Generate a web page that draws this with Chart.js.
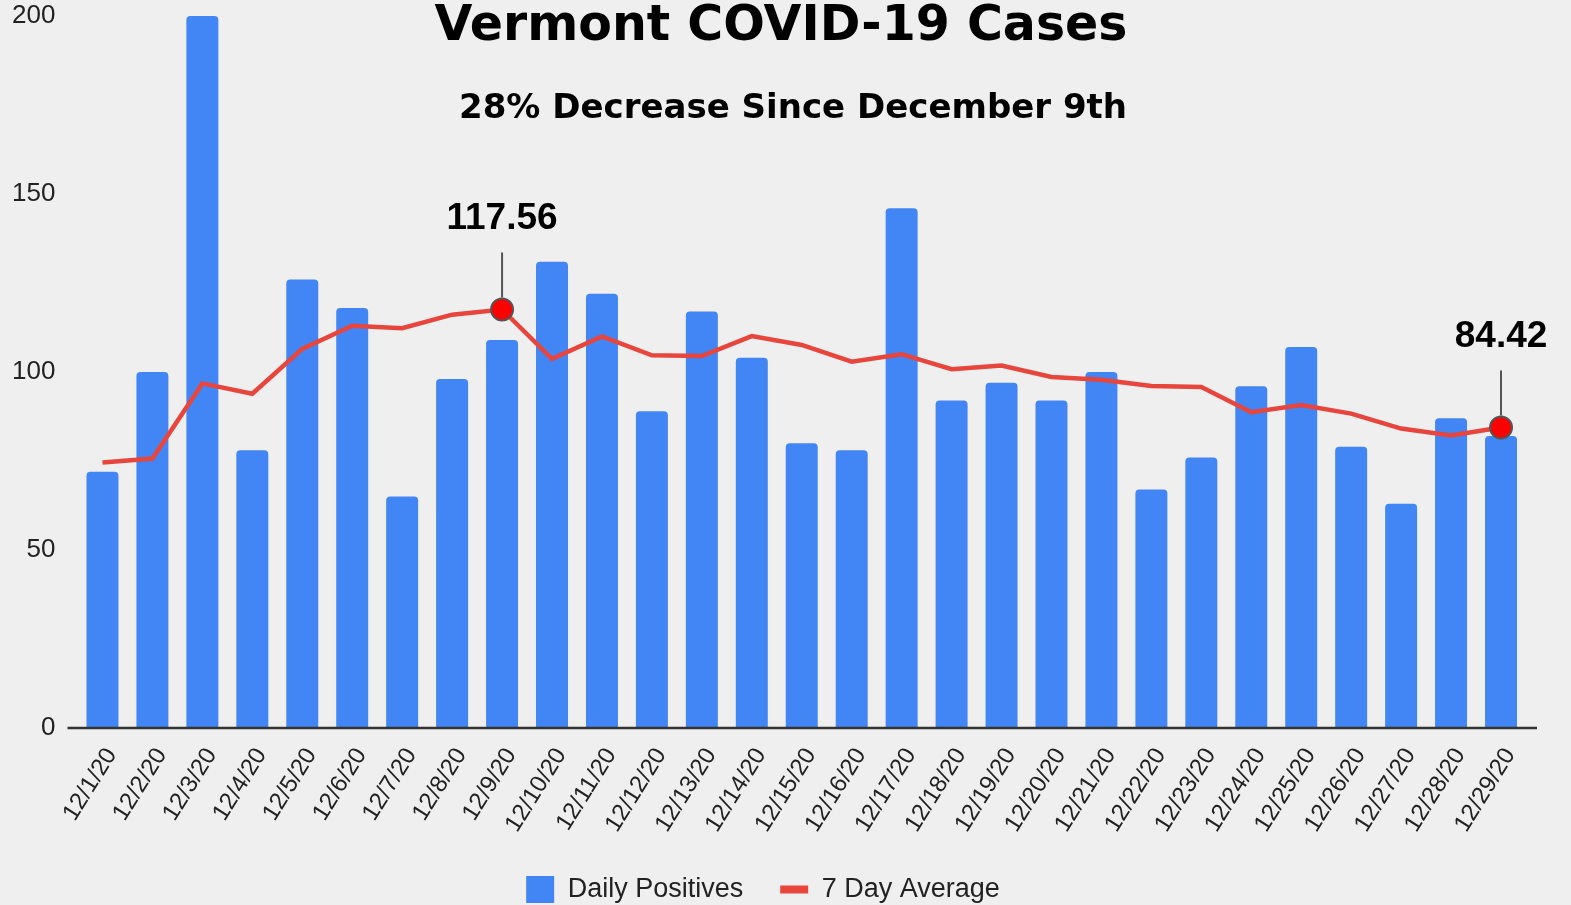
<!DOCTYPE html>
<html>
<head>
<meta charset="utf-8">
<title>Vermont COVID-19 Cases</title>
<script src="https://cdn.jsdelivr.net/npm/chart.js@4.4.1/dist/chart.umd.min.js"></script>
<style>
  html, body { margin: 0; padding: 0; background: #efefef; }
  #wrap { width: 1571px; height: 905px; position: relative; }
</style>
</head>
<body>
<div id="wrap"><canvas id="chart"></canvas></div>
<script>
// ---------- data ----------
const DATES = ['12/1/20','12/2/20','12/3/20','12/4/20','12/5/20','12/6/20','12/7/20','12/8/20','12/9/20','12/10/20',
  '12/11/20','12/12/20','12/13/20','12/14/20','12/15/20','12/16/20','12/17/20','12/18/20','12/19/20','12/20/20',
  '12/21/20','12/22/20','12/23/20','12/24/20','12/25/20','12/26/20','12/27/20','12/28/20','12/29/20'];
const DAILY = [72, 100, 200, 78, 126, 118, 65, 98, 109, 131,
  122, 89, 117, 104, 80, 78, 146, 92, 97, 92,
  100, 67, 76, 96, 107, 79, 63, 87, 82];
const AVG = [74.6, 75.7, 96.8, 93.9, 106.5, 113.0, 112.3, 116.1, 117.56, 103.7,
  110.0, 104.7, 104.5, 110.1, 107.6, 102.9, 105.0, 100.8, 101.8, 98.6,
  97.8, 96.1, 95.8, 88.7, 90.7, 88.3, 84.1, 82.2, 84.42];
const Y_TICKS = [0, 50, 100, 150, 200];
const CALLOUTS = [8, 28]; // average points that get a value label

const TITLE = 'Vermont COVID-19 Cases';
const SUBTITLE = '28% Decrease Since December 9th';

const BLUE = '#4285F4', RED = '#E8453C', DOT = '#FF0000';
const TEXT = '#222';
const SANS = '"Liberation Sans", Arial, sans-serif';

function $(id){ return document.getElementById(id); }

Chart.defaults.font.family = SANS;

// baseline, callouts and titles drawn on top of the plot
const decorations = {
  id: 'decorations',
  afterDatasetsDraw(chart){
    const { ctx, chartArea } = chart;
    const y0 = chart.scales.y.getPixelForValue(0);
    ctx.save();
    ctx.strokeStyle = '#333';
    ctx.lineWidth = 2.5;
    ctx.beginPath();
    ctx.moveTo(chartArea.left - 10, y0);
    ctx.lineTo(chartArea.right + 11, y0);
    ctx.stroke();

    const pts = chart.getDatasetMeta(1).data;
    ctx.strokeStyle = '#555';
    ctx.lineWidth = 2;
    ctx.fillStyle = '#000';
    ctx.font = 'bold 37px ' + SANS;
    ctx.textAlign = 'center';
    ctx.textBaseline = 'alphabetic';
    CALLOUTS.forEach(i => {
      const p = pts[i];
      ctx.beginPath();
      ctx.moveTo(p.x, p.y - 57);
      ctx.lineTo(p.x, p.y - 12);
      ctx.stroke();
      ctx.fillText(AVG[i].toFixed(2), p.x, p.y - 80);
    });
    ctx.restore();
  },
  afterDraw(chart){
    const { ctx } = chart;
    ctx.save();
    ctx.fillStyle = '#000';
    ctx.textAlign = 'center';
    ctx.textBaseline = 'alphabetic';
    ctx.font = 'bold 49px "DejaVu Sans", sans-serif';
    ctx.fillText(TITLE, 781, 40);
    ctx.font = 'bold 34px "DejaVu Sans", sans-serif';
    ctx.fillText(SUBTITLE, 793, 118);
    ctx.restore();
  }
};

new Chart($('chart'), {
  data: {
    labels: DATES,
    datasets: [
      {
        type: 'bar', label: 'Daily Positives', data: DAILY,
        backgroundColor: BLUE, barPercentage: 0.64, categoryPercentage: 1,
        borderRadius: 4, order: 1
      },
      {
        type: 'line', label: '7 Day Average', data: AVG,
        borderColor: RED, backgroundColor: RED, borderWidth: 4.5, tension: 0, order: 0,
        pointRadius: c => CALLOUTS.includes(c.dataIndex) ? 11 : 0,
        pointHoverRadius: c => CALLOUTS.includes(c.dataIndex) ? 11 : 0,
        pointBackgroundColor: DOT, pointBorderColor: '#555', pointBorderWidth: 2
      }
    ]
  },
  options: {
    responsive: true, maintainAspectRatio: false, animation: false,
    layout: { padding: { top: 16, right: 45, bottom: -8, left: 0 } },
    plugins: {
      tooltip: { enabled: false },
      legend: {
        position: 'bottom',
        labels: {
          color: TEXT, font: { size: 27 },
          usePointStyle: true, pointStyleWidth: 28, boxHeight: 28, padding: 37,
          sort: (a, b) => a.datasetIndex - b.datasetIndex,
          generateLabels(chart){
            const items = Chart.defaults.plugins.legend.labels.generateLabels(chart);
            items.forEach(it => {
              if (it.datasetIndex === 1) { it.pointStyle = 'line'; it.lineWidth = 8; it.strokeStyle = RED; }
              else { it.pointStyle = 'rect'; it.lineWidth = 0; }
            });
            return items;
          }
        }
      }
    },
    scales: {
      x: {
        grid: { display: false }, border: { display: false },
        ticks: { autoSkip: false, minRotation: 58, maxRotation: 58, padding: 7, labelOffset: 9,
                 color: TEXT, font: { size: 24 } },
        afterFit: s => { s.height = 111; }
      },
      y: {
        min: 0, max: 200,
        // invisible tick marks give the gap between labels and plot
        grid: { display: true, drawOnChartArea: false, drawTicks: true, tickLength: 22, color: 'rgba(0,0,0,0)' },
        border: { display: false },
        afterBuildTicks: s => { s.ticks = Y_TICKS.map(v => ({ value: v })); },
        ticks: { padding: 0, color: TEXT, font: { size: 26 } },
        afterFit: s => { s.width = 77.5; }
      }
    }
  },
  plugins: [decorations]
});
</script>
</body>
</html>
